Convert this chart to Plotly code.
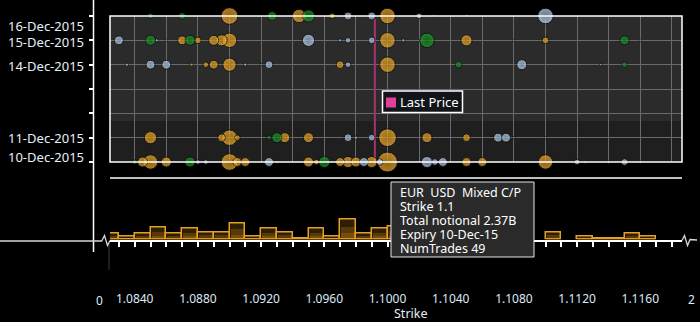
import math
import plotly.graph_objects as go

W, H = 700, 322
def PX(x): return x / W
def PY(y): return 1 - y / H

FONT = "Noto Sans"
LABEL_COL = "#dde9f7"

# ---------------- data ----------------
expiry_dates = ["2015-12-10", "2015-12-11", "2015-12-14", "2015-12-15", "2015-12-16"]
expiry_labels = ["10-Dec-2015", "11-Dec-2015", "14-Dec-2015", "15-Dec-2015", "16-Dec-2015"]

# Mixed C/P (orange): expiry, strike, notional ($M)
mixed_expiry = (["2015-12-16"] * 4 + ["2015-12-15"] * 8 + ["2015-12-14"] * 6 +
                ["2015-12-11"] * 9 + ["2015-12-10"] * 16)
mixed_strike = [1.0900, 1.0944, 1.0965, 1.1000,
                1.0870, 1.0880, 1.0890, 1.0895, 1.0900, 1.1000, 1.1050, 1.1100,
                1.0876, 1.0885, 1.0890, 1.0900, 1.0970, 1.1000,
                1.0850, 1.0895, 1.0900, 1.0905, 1.0935, 1.0950, 1.1000, 1.1025, 1.1050,
                1.0845, 1.0850, 1.0860, 1.0900, 1.0905, 1.0910, 1.0950, 1.0955, 1.0970,
                1.0975, 1.0980, 1.0990, 1.1000, 1.1050, 1.1060, 1.1100]
mixed_notional = [1646, 1053, 183, 1434,
                  468, 263, 593, 731, 1236, 1434, 731, 263,
                  66, 183, 468, 1053, 358, 1434,
                  885, 358, 1434, 183, 593, 593, 1873, 593, 358,
                  593, 1236, 593, 1646, 468, 468, 593, 183, 468,
                  731, 593, 731, 2370, 468, 468, 1236]

# Puts (blue)
put_expiry = (["2015-12-16"] * 5 + ["2015-12-15"] * 10 + ["2015-12-14"] * 9 +
              ["2015-12-11"] * 7 + ["2015-12-10"] * 14)
put_strike = [1.0975, 1.0990, 1.1020, 1.1100, 1.1050,
              1.0830, 1.0950, 1.0975, 1.0990, 1.0854, 1.0860, 1.0970, 1.1010, 1.1080, 1.1160,
              1.0835, 1.0850, 1.0860, 1.0910, 1.0920, 1.0925, 1.0975, 1.1085, 1.1135,
              1.0975, 1.0980, 1.0990, 1.1070, 1.1075, 1.1080, 1.1100,
              1.0880, 1.0885, 1.0925, 1.0930, 1.0985, 1.0995, 1.1025, 1.1030, 1.1035,
              1.1120, 1.1125, 1.1140, 1.1150, 1.1160]
put_notional = [358, 358, 183, 1434, 29,
                468, 885, 183, 263, 66, 29, 66, 66, 29, 29,
                66, 468, 468, 66, 29, 358, 183, 593, 29,
                358, 66, 263, 468, 468, 29, 29,
                117, 117, 468, 29, 468, 263, 731, 263, 468,
                183, 29, 29, 263, 29]

# Calls (green)
call_expiry = (["2015-12-16"] * 5 + ["2015-12-15"] * 4 + ["2015-12-14"] * 2 +
               ["2015-12-11"] * 2 + ["2015-12-10"] * 3)
call_strike = [1.0850, 1.0870, 1.0927, 1.0950, 1.1029,
               1.0850, 1.0875, 1.1025, 1.1150,
               1.1045, 1.1150,
               1.0925, 1.0930,
               1.0840, 1.0875, 1.0960]
call_notional = [183, 263, 468, 885, 29,
                 593, 593, 1236, 468,
                 263, 183,
                 117, 593,
                 117, 593, 731]

# Out-of-range buckets shown at the axis breaks (strike 0 and strike 2)
break_expiry = expiry_dates
low_ring_colors = ["#c08a20", "#c08a20", "#2a2a2a", "#1f8a2a", "#1f8a2a"]
high_ring_colors = ["#3a3a3a", "#3a3a3a", "#c08a20", "#1f8a2a", "#c08a20"]

# Histogram of notional by strike bucket ($B)
hist_strike = [1.0825, 1.0835, 1.0845, 1.0855, 1.0865, 1.0875, 1.0885, 1.0895, 1.0905, 1.0915,
               1.0925, 1.0935, 1.0945, 1.0955, 1.0965, 1.0975, 1.0985, 1.0995, 1.1005, 1.1015,
               1.1025, 1.1035, 1.1045, 1.1055, 1.1065, 1.1075, 1.1085, 1.1105, 1.1125, 1.1135,
               1.1145, 1.1155, 1.1165]
hist_notional = [0.6, 0.3, 0.6, 1.2, 0.6, 1.1, 0.7, 0.7, 1.6, 0.3,
                 1.1, 0.7, 0.15, 1.1, 0.3, 2.0, 0.6, 1.1, 1.3, 0.9,
                 0.5, 0.7, 0.4, 0.5, 0.3, 0.4, 0.2, 0.7, 0.3, 0.15,
                 0.15, 0.6, 0.3]

tick_strikes = [1.0840, 1.0880, 1.0920, 1.0960, 1.1000, 1.1040, 1.1080, 1.1120, 1.1160]
LAST_PRICE = 1.0992
LAST_PRICE_SPAN = ["2015-12-10", "2015-12-15 21:00"]
X_RANGE = [1.082437, 1.118639]
tooltip_lines = ["EUR\u00a0\u00a0USD\u00a0\u00a0Mixed C/P", "Strike 1.1", "Total notional 2.37B",
                 "Expiry 10-Dec-15", "NumTrades 49"]

# ---------------- figure ----------------
def diam(n):
    return 20 * math.sqrt(n / 2370)

fig = go.Figure()

# last price line (under the bubbles)
fig.add_trace(go.Scatter(
    x=[LAST_PRICE, LAST_PRICE], y=LAST_PRICE_SPAN, mode="lines", xaxis="x", yaxis="y",
    showlegend=False, hoverinfo="skip", line=dict(color="#a83268", width=2)))

def bubbles(exp, strike, notional, color, grad):
    order = sorted(range(len(strike)), key=lambda i: -notional[i])
    fig.add_trace(go.Scatter(
        x=[strike[i] for i in order], y=[exp[i] for i in order], mode="markers",
        xaxis="x", yaxis="y", cliponaxis=False, showlegend=False, hoverinfo="skip",
        marker=dict(size=[max(diam(notional[i]), 2.5) for i in order], color=color,
                    gradient=dict(type="radial", color=grad),
                    line=dict(color="#0c0c0c", width=1))))

bubbles(mixed_expiry, mixed_strike, mixed_notional, "#f2b23a", "#d4900e")
bubbles(put_expiry, put_strike, put_notional, "#c8ddf2", "#8cafd6")
bubbles(call_expiry, call_strike, call_notional, "#1fa830", "#0b7a18")

# break buckets
fig.add_trace(go.Scatter(
    x=[0] * 5, y=break_expiry, mode="markers", xaxis="x3", yaxis="y", cliponaxis=False,
    showlegend=False, hoverinfo="skip", opacity=0.8,
    marker=dict(size=15, color="rgba(0,0,0,0.55)", line=dict(color=low_ring_colors, width=1.5))))
fig.add_trace(go.Scatter(
    x=[0] * 5, y=break_expiry, mode="markers", xaxis="x3", yaxis="y", cliponaxis=False,
    showlegend=False, hoverinfo="skip",
    marker=dict(size=6, color="#1c9a2c", line=dict(color="#0a300e", width=1))))
fig.add_trace(go.Scatter(
    x=[2] * 5, y=break_expiry, mode="markers", xaxis="x3", yaxis="y", cliponaxis=False,
    showlegend=False, hoverinfo="skip", opacity=0.8,
    marker=dict(size=15, color="rgba(0,0,0,0.55)", line=dict(color=high_ring_colors, width=1.5))))
fig.add_trace(go.Scatter(
    x=[2] * 5, y=break_expiry, mode="markers", xaxis="x3", yaxis="y", cliponaxis=False,
    showlegend=False, hoverinfo="skip",
    marker=dict(size=5, color="#a8c8ea", line=dict(color="#203040", width=1))))

# histogram (layered to give a bottom-bright gradient)
fig.add_trace(go.Bar(
    x=hist_strike, y=hist_notional, width=0.001, xaxis="x2", yaxis="y2",
    showlegend=False, hoverinfo="skip",
    marker=dict(color="rgba(210,140,20,0.22)", line=dict(color="#e4a025", width=1.5))))
for frac in (0.66, 0.33):
    fig.add_trace(go.Bar(
        x=hist_strike, y=[v * frac for v in hist_notional], width=0.00085, xaxis="x2", yaxis="y2",
        showlegend=False, hoverinfo="skip",
        marker=dict(color="rgba(210,140,20,0.25)", line=dict(width=0))))

xdom = [PX(110), PX(682)]
fig.update_layout(
    width=W, height=H, margin=dict(l=0, r=0, t=0, b=0),
    paper_bgcolor="black", plot_bgcolor="black",
    font=dict(family=FONT, size=13, color=LABEL_COL),
    showlegend=False, barmode="overlay",
    xaxis=dict(domain=xdom, range=X_RANGE, showticklabels=False, ticks="",
               showgrid=True, gridcolor="#6a6a6a", gridwidth=1, tick0=1.084, dtick=0.002,
               zeroline=False, showline=False, anchor="y"),
    yaxis=dict(domain=[PY(162), PY(16)], type="date", range=["2015-12-10", "2015-12-16"],
               tick0="2015-12-10", dtick=86400000, showgrid=True, gridcolor="#6a6a6a",
               gridwidth=1, ticks="outside", ticklen=5, tickcolor="white", tickwidth=1.5,
               showticklabels=False, showline=False, zeroline=False,
               anchor="free", position=PX(93.5)),
    xaxis3=dict(overlaying="x", range=[0.02393, 1.97949], visible=False, anchor="y"),
    xaxis2=dict(domain=xdom, range=X_RANGE, anchor="y2", showgrid=False, zeroline=False,
                showline=True, linecolor="white", linewidth=2,
                tickmode="array", tickvals=tick_strikes, tickformat=".4f",
                ticks="outside", ticklen=5, tickcolor="white", tickwidth=1.5,
                minor=dict(dtick=0.001, tick0=1.084, ticks="outside", ticklen=5,
                           tickcolor="white", tickwidth=1.5),
                ticklabelstandoff=42,
                tickfont=dict(size=12, color=LABEL_COL, family=FONT)),
    yaxis2=dict(domain=[PY(239.5), PY(179.5)], range=[0, 6], visible=False),
    bargap=0,
)

shapes = []
# plot-area backgrounds
shapes.append(dict(type="rect", xref="x domain", yref="y domain", x0=0, x1=1,
                   y0=(162 - 121) / 146, y1=1, fillcolor="#2b2b2b", line=dict(width=0), layer="below"))
shapes.append(dict(type="rect", xref="x domain", yref="y domain", x0=0, x1=1,
                   y0=0, y1=(162 - 121) / 146, fillcolor="#1f1f1f", line=dict(width=0), layer="below"))
# plot border
shapes.append(dict(type="rect", xref="paper", yref="paper", x0=PX(110), x1=PX(682),
                   y0=PY(162), y1=PY(16), line=dict(color="white", width=1.5), layer="above"))
# date axis line (long)
shapes.append(dict(type="line", xref="paper", yref="paper", x0=PX(93.5), x1=PX(93.5),
                   y0=PY(0), y1=PY(252), line=dict(color="white", width=1.5)))
# separator line below bubble chart
shapes.append(dict(type="line", xref="paper", yref="paper", x0=PX(110), x1=PX(682),
                   y0=PY(178), y1=PY(178), line=dict(color="white", width=1.5)))
# faint vertical at histogram start
shapes.append(dict(type="line", xref="paper", yref="paper", x0=PX(109), x1=PX(109),
                   y0=PY(243), y1=PY(270), line=dict(color="#3a3a3a", width=1)))

def path(pts):
    return "M " + " L ".join(f"{PX(x):.5f},{PY(y):.5f}" for x, y in pts)

shapes.append(dict(type="path", xref="paper", yref="paper",
                   path=path([(0, 241), (101.7, 241), (104.5, 235.5), (107.5, 245.5), (110, 240.5)]),
                   line=dict(color="#d8d8d8", width=1.3)))
shapes.append(dict(type="path", xref="paper", yref="paper",
                   path=path([(682, 240.5), (684.5, 235.5), (687.5, 245.5), (690, 239.5), (697, 240)]),
                   line=dict(color="#d8d8d8", width=1.3)))
# legend box
shapes.append(dict(type="rect", xref="paper", yref="paper", x0=PX(382.5), x1=PX(462.5),
                   y0=PY(112.5), y1=PY(91), fillcolor="#11151a",
                   line=dict(color="white", width=1.5), layer="above"))
shapes.append(dict(type="rect", xref="paper", yref="paper", x0=PX(386), x1=PX(396),
                   y0=PY(107.5), y1=PY(97.5), fillcolor="#e0409a", line=dict(width=0), layer="above"))
# tooltip box
shapes.append(dict(type="rect", xref="paper", yref="paper", x0=PX(391), x1=PX(534),
                   y0=PY(257), y1=PY(182), fillcolor="#2a2a2a",
                   line=dict(color="#e6e6e6", width=1), layer="above"))
fig.update_layout(shapes=shapes)

ann = []
shifts = {"2015-12-16": -10, "2015-12-15": -2, "2015-12-14": -1, "2015-12-11": 0, "2015-12-10": 5}
for d, lab in zip(expiry_dates, expiry_labels):
    ann.append(dict(text=lab, xref="paper", yref="y", x=PX(86), y=d, xanchor="right",
                    yanchor="middle", yshift=shifts[d], showarrow=False,
                    font=dict(size=13, color="#e8f0fa", family=FONT)))
ann.append(dict(text="Last Price", xref="paper", yref="paper", x=PX(398), y=PY(102),
                xanchor="left", yanchor="middle", showarrow=False,
                font=dict(size=13, color="white", family=FONT)))
for i, line in enumerate(tooltip_lines):
    ann.append(dict(text=line, xref="paper", yref="paper", x=PX(399), y=PY(192 + 14 * i),
                    xanchor="left", yanchor="middle", showarrow=False, borderpad=0,
                    font=dict(size=12.5, color="white", family=FONT)))
ann.append(dict(text="0", xref="paper", yref="paper", x=PX(99), y=PY(300), showarrow=False,
                xanchor="center", yanchor="middle", font=dict(size=12, color=LABEL_COL, family=FONT)))
ann.append(dict(text="2", xref="paper", yref="paper", x=PX(691), y=PY(299), showarrow=False,
                xanchor="center", yanchor="middle", font=dict(size=12, color=LABEL_COL, family=FONT)))
ann.append(dict(text="Strike", xref="paper", yref="paper", x=PX(411), y=PY(313), showarrow=False,
                xanchor="center", yanchor="middle", font=dict(size=12.5, color="#e8eef5", family=FONT)))
fig.update_layout(annotations=ann)

fig.write_html("out.html")
